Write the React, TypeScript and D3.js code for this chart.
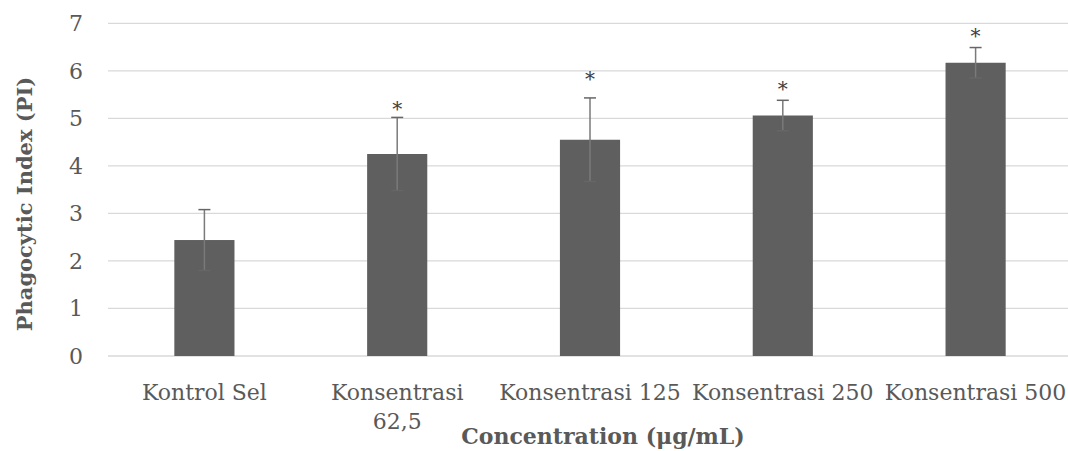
import React from "react";
import * as d3 from "d3";

const categories = ["Kontrol Sel", "Konsentrasi 62,5", "Konsentrasi 125", "Konsentrasi 250", "Konsentrasi 500"];
const categoryLines = [["Kontrol Sel"], ["Konsentrasi", "62,5"], ["Konsentrasi 125"], ["Konsentrasi 250"], ["Konsentrasi 500"]];
const means = [2.44, 4.25, 4.55, 5.06, 6.17];
const errors = [0.64, 0.77, 0.88, 0.32, 0.32];
const marks = ["", "*", "*", "*", "*"];
const markLevels = [0, 5.25, 5.9, 5.69, 6.8];
const yTicks = [0, 1, 2, 3, 4, 5, 6, 7];

const W = 1068;
const H = 451;
const left = 108;
const right = 1072;
const top = 23.3;
const bottom = 356;
const FONT = "'DejaVu Serif', serif";
const TEXT = "#595959";

export default function App() {
  const x = d3.scaleBand<string>().domain(categories).range([left, right]).paddingInner(0.688).paddingOuter(0.344);
  const y = d3.scaleLinear().domain([0, 7]).range([bottom, top]);
  const bw = x.bandwidth();
  return (
    <svg width={W} height={H} style={{ position: "absolute", left: 0, top: 0 }} fontFamily={FONT}>
      <rect width={W} height={H} fill="#fff" />
      {yTicks.map((t) => (
        <g key={t}>
          <line x1={left} x2={right} y1={y(t)} y2={y(t)} stroke="#d9d9d9" strokeWidth={1.3} />
          <text x={83} y={y(t)} dy={8} textAnchor="end" fontSize={22} fill={TEXT}>{t}</text>
        </g>
      ))}
      {categories.map((c, i) => {
        const cx = (x(c) as number) + bw / 2;
        return (
          <g key={c}>
            <rect x={x(c)} y={y(means[i])} width={bw} height={y(0) - y(means[i])} fill="#5f5f5f" />
            <line x1={cx} x2={cx} y1={y(means[i] - errors[i])} y2={y(means[i] + errors[i])} stroke="#7a7a7a" strokeWidth={1.5} />
            <line x1={cx - 6} x2={cx + 6} y1={y(means[i] + errors[i])} y2={y(means[i] + errors[i])} stroke="#666" strokeWidth={1.5} />
            <line x1={cx - 6} x2={cx + 6} y1={y(means[i] - errors[i])} y2={y(means[i] - errors[i])} stroke="#666" strokeWidth={1.5} />
            {marks[i] && (
              <text x={cx} y={y(markLevels[i])} dy={10} textAnchor="middle" fontSize={20} fill="#404040">{marks[i]}</text>
            )}
            {categoryLines[i].map((ln, j) => (
              <text key={j} x={cx} y={400 + j * 28.5} textAnchor="middle" fontSize={22} fill={TEXT}>{ln}</text>
            ))}
          </g>
        );
      })}
      <text x={603} y={444} textAnchor="middle" fontSize={22} fontWeight="bold" fill={TEXT}>Concentration (μg/mL)</text>
      <text transform={`translate(32, 204) rotate(-90)`} textAnchor="middle" fontSize={21} fontWeight="bold" fill={TEXT}>Phagocytic Index (PI)</text>
    </svg>
  );
}
